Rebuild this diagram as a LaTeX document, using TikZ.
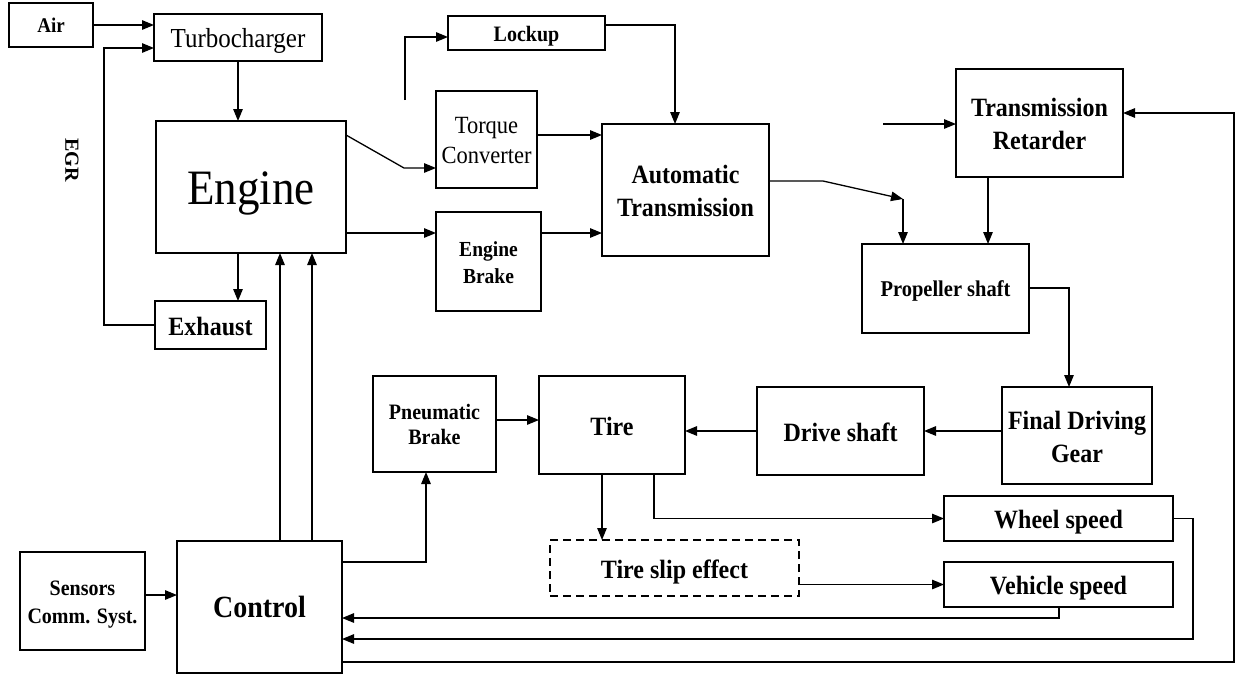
\documentclass[tikz,border=0pt]{standalone}
\usepackage{fontspec}
\usepackage{graphicx}
\setmainfont{Liberation Serif}
\usetikzlibrary{arrows.meta}
\newcommand\myfs[2]{\fontsize{#1}{#2}\selectfont}
\newcommand\tx[1]{\raisebox{-0.12\baselineskip}[\height][\depth]{\scalebox{1}[1.1]{\begin{tabular}{@{}c@{}}#1\end{tabular}}}}
\begin{document}
\begin{tikzpicture}[x=1pt,y=-1pt,
  blk/.style={draw, line width=1.8pt, inner sep=0pt, outer sep=0pt, align=center, font=\bfseries\myfs{24}{30}},
  arr/.style={line width=1.3pt, -{Triangle[length=12pt,width=9.5pt]}},
  ln/.style={line width=1.3pt}]
\useasboundingbox (0,0) rectangle (1238,675);
% nodes
\node[blk, minimum width=84pt, minimum height=44pt, font=\bfseries\myfs{19}{22}] (air) at (51,25) {\tx{Air}};
\node[blk, minimum width=168pt, minimum height=47pt, font=\myfs{25}{28}] (turbo) at (238,37.5) {\tx{Turbocharger}};
\node[blk, minimum width=190pt, minimum height=132pt, font=\myfs{45}{50}] (engine) at (251,187) {\tx{Engine}};
\node[blk, minimum width=111pt, minimum height=48pt] (exhaust) at (210.5,325) {\tx{Exhaust}};
\node[blk, minimum width=157pt, minimum height=34pt, font=\bfseries\myfs{20}{24}] (lockup) at (526.5,33) {\tx{Lockup}};
\node[blk, minimum width=101pt, minimum height=97pt, font=\myfs{22.5}{27}] (tc) at (486.5,139.5) {\tx{Torque\\Converter}};
\node[blk, minimum width=105pt, minimum height=99pt, font=\bfseries\myfs{19.5}{25}] (eb) at (488.5,261.5) {\tx{Engine\\Brake}};
\node[blk, minimum width=167pt, minimum height=132pt] (atr) at (685.5,190) {\tx{Automatic\\Transmission}};
\node[blk, minimum width=167pt, minimum height=108pt] (tr) at (1039.5,123) {\tx{Transmission\\Retarder}};
\node[blk, minimum width=167pt, minimum height=89pt, font=\bfseries\myfs{20.5}{24}] (prop) at (945.5,288.5) {\tx{Propeller shaft}};
\node[blk, minimum width=150pt, minimum height=97pt] (fdg) at (1077,435.5) {\tx{Final Driving\\Gear}};
\node[blk, minimum width=167pt, minimum height=88pt] (ds) at (840.5,431) {\tx{Drive shaft}};
\node[blk, minimum width=146pt, minimum height=98pt] (tire) at (612,425) {\tx{Tire}};
\node[blk, minimum width=123pt, minimum height=96pt, font=\bfseries\myfs{20}{23}] (pb) at (434.5,424) {\tx{Pneumatic\\Brake}};
\node[blk, minimum width=229pt, minimum height=45pt] (ws) at (1058.5,518.5) {\tx{Wheel speed}};
\node[blk, minimum width=229pt, minimum height=45pt] (vs) at (1058.5,584.5) {\tx{Vehicle speed}};
\node[blk, dash pattern=on 8pt off 5pt, minimum width=249pt, minimum height=56pt] (slip) at (674.5,568) {\tx{Tire slip effect}};
\node[blk, minimum width=125pt, minimum height=98pt, font=\bfseries\myfs{20}{25}] (sensors) at (82.5,601) {\tx{Sensors\\Comm. Syst.}};
\node[blk, minimum width=165pt, minimum height=132pt, font=\bfseries\myfs{28}{32}] (control) at (259.5,607) {\tx{Control}};
\node[rotate=-90, font=\bfseries\myfs{20}{24}, inner sep=0pt] (egr) at (72,160) {EGR};
% helper coordinates
\coordinate (egrc) at (104,48);
\coordinate (c1) at (280,0);
\coordinate (c2) at (312,0);
\coordinate (tcbend) at (404,168);
\coordinate (lkin) at (405,100);
\coordinate (lkx) at (675,0);
\coordinate (sw1) at (823,181);
\coordinate (sw2) at (903,199);
\coordinate (trin) at (883,124);
\coordinate (trx) at (988,0);
\coordinate (fdgx) at (1069,0);
\coordinate (pbx) at (426,0);
\coordinate (slx) at (602,0);
\coordinate (wsx) at (654,0);
\coordinate (vsx) at (1059,0);
\coordinate (wsr) at (1193,639);
\coordinate (outr) at (1234,662);
% connectors
\draw[arr] (air.east) -- (air.east -| turbo.west);
\draw[arr] (exhaust.west) -| (egrc) -- (egrc -| turbo.west);
\draw[arr] (turbo.south) -- (turbo.south |- engine.north);
\draw[arr] (turbo.south |- engine.south) -- (turbo.south |- exhaust.north);
\draw[arr] (c1 |- control.north) -- (c1 |- engine.south);
\draw[arr] (c2 |- control.north) -- (c2 |- engine.south);
\draw[arr] (engine.east |- 0,135) -- (tcbend) -- (tcbend -| tc.west);
\draw[arr] (lkin) |- (lockup.west |- 0,37);
\draw[arr] (lockup.east |- 0,25) -| (lkx |- atr.north);
\draw[arr] (tc.east |- 0,135) -- (atr.west |- 0,135);
\draw[arr] (engine.east |- 0,233) -- (eb.west |- 0,233);
\draw[arr] (eb.east |- 0,233) -- (atr.west |- 0,233);
\draw[arr] (atr.east |- sw1) -- (sw1) -- (sw2);
\draw[arr] (sw2) -- (sw2 |- prop.north);
\draw[arr] (trin) -- (trin -| tr.west);
\draw[arr] (trx |- tr.south) -- (trx |- prop.north);
\draw[arr] (prop.east |- 0,288) -| (fdgx |- fdg.north);
\draw[arr] (fdg.west |- ds.east) -- (ds.east);
\draw[arr] (ds.west) -- (ds.west -| tire.east);
\draw[arr] (pb.east |- 0,420) -- (tire.west |- 0,420);
\draw[arr] (control.east |- 0,562) -| (pbx |- pb.south);
\draw[arr] (sensors.east |- 0,595) -- (control.west |- 0,595);
\draw[arr] (slx |- tire.south) -- (slx |- slip.north);
\draw[arr] (wsx |- tire.south) |- (ws.west);
\draw[arr] (slip.east |- vs.west) -- (vs.west);
\draw[arr] (vsx |- vs.south) |- (control.east |- 0,618);
\draw[arr] (ws.east) -| (wsr) -- (control.east |- wsr);
\draw[arr] (control.east |- outr) -- (outr) |- (tr.east |- 0,113);
\end{tikzpicture}
\end{document}
